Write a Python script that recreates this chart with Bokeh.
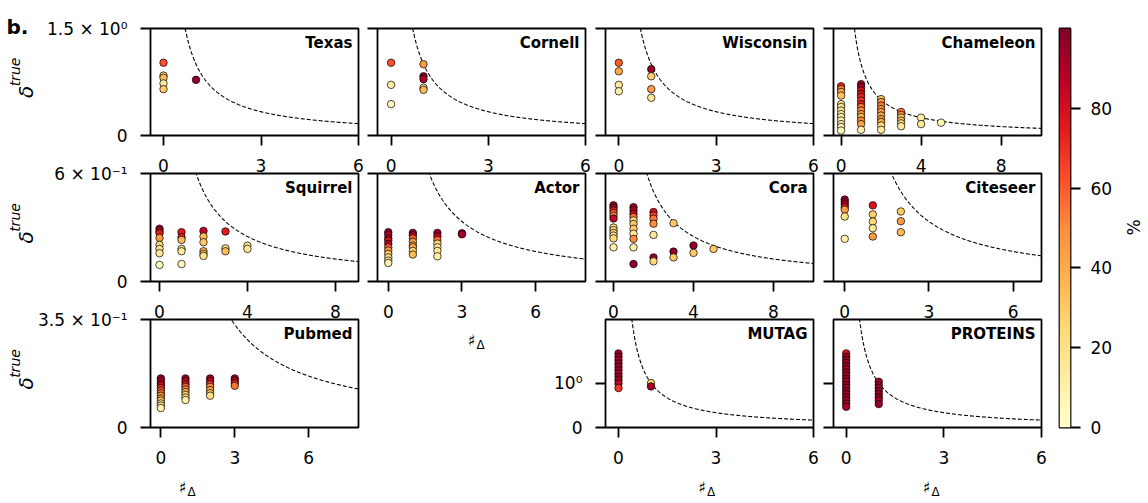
import numpy as np
from bokeh.plotting import figure
from bokeh.layouts import column
from bokeh.models import Range1d, FixedTicker, Label, LinearColorMapper, ColumnDataSource
from bokeh.embed import file_html
from bokeh.resources import INLINE

# ---------------- data ----------------
TEXAS_X = [0, 0, 0, 0, 0, 1]
TEXAS_Y = [1.02, 0.84, 0.81, 0.73, 0.65, 0.78]
TEXAS_P = [62, 28, 35, 14, 30, 95]

CORNELL_X = [0, 0, 0, 1, 1, 1, 1, 1]
CORNELL_Y = [1.02, 0.71, 0.44, 1.00, 0.83, 0.79, 0.67, 0.64]
CORNELL_P = [62, 12, 6, 45, 95, 90, 22, 35]

WISCONSIN_X = [0, 0, 0, 0, 1, 1, 1, 1]
WISCONSIN_Y = [1.02, 0.90, 0.71, 0.62, 0.93, 0.83, 0.65, 0.53]
WISCONSIN_P = [60, 40, 14, 10, 95, 28, 45, 15]

CHAMELEON_X = [0] * 13 + [1] * 14 + [2] * 10 + [3] * 6 + [4] * 2 + [5]
CHAMELEON_Y = [0.69, 0.65, 0.61, 0.56, 0.44, 0.40, 0.35, 0.30, 0.26, 0.21, 0.16, 0.12, 0.07,
               0.72, 0.68, 0.63, 0.58, 0.54, 0.49, 0.44, 0.40, 0.35, 0.30, 0.26, 0.21, 0.16, 0.08,
               0.51, 0.47, 0.42, 0.37, 0.33, 0.28, 0.23, 0.19, 0.14, 0.08,
               0.33, 0.29, 0.25, 0.21, 0.17, 0.13,
               0.25, 0.16,
               0.18]
CHAMELEON_P = [72, 50, 42, 32, 20, 15, 18, 10, 12, 8, 14, 6, 4,
               95, 92, 80, 75, 72, 68, 72, 55, 50, 45, 35, 50, 45, 10,
               30, 45, 55, 45, 45, 40, 45, 40, 25, 15,
               55, 50, 25, 35, 20, 15,
               12, 15,
               8]

SQUIRREL_X = [0] * 8 + [1] * 6 + [2] * 6 + [3] * 3 + [4] * 2
SQUIRREL_Y = [0.293, 0.279, 0.268, 0.242, 0.203, 0.181, 0.157, 0.092,
              0.274, 0.246, 0.231, 0.181, 0.168, 0.097,
              0.281, 0.250, 0.218, 0.168, 0.153, 0.142,
              0.278, 0.184, 0.168,
              0.199, 0.181]
SQUIRREL_P = [95, 82, 75, 45, 25, 20, 15, 5,
              75, 72, 35, 20, 15, 5,
              85, 35, 30, 40, 30, 20,
              75, 20, 35,
              20, 15]

ACTOR_X = [0] * 11 + [1] * 8 + [2] * 7 + [3] * 2
ACTOR_Y = [0.274, 0.259, 0.240, 0.227, 0.209, 0.190, 0.172, 0.153, 0.134, 0.116, 0.103,
           0.270, 0.257, 0.240, 0.220, 0.200, 0.190, 0.170, 0.150,
           0.270, 0.250, 0.230, 0.210, 0.190, 0.170, 0.140,
           0.268, 0.262]
ACTOR_P = [95, 90, 92, 78, 88, 60, 45, 30, 20, 15, 10,
           95, 90, 60, 45, 35, 40, 25, 35,
           95, 85, 55, 25, 15, 15, 10,
           95, 92]

CORA_X = [0] * 12 + [1] * 11 + [2] * 7 + [3] * 3 + [4] * 2 + [5]
CORA_Y = [0.423, 0.410, 0.395, 0.380, 0.365, 0.350, 0.300, 0.285, 0.270, 0.255, 0.240, 0.190,
          0.413, 0.395, 0.376, 0.358, 0.339, 0.320, 0.293, 0.265, 0.237, 0.190, 0.097,
          0.386, 0.367, 0.349, 0.321, 0.259, 0.134, 0.112,
          0.324, 0.166, 0.134,
          0.200, 0.159,
          0.181]
CORA_P = [95, 90, 75, 60, 50, 85, 25, 20, 30, 15, 25, 10,
          95, 90, 85, 55, 20, 30, 30, 15, 50, 10, 95,
          80, 65, 55, 50, 15, 95, 25,
          30, 95, 30,
          95, 30,
          30]

CITESEER_X = [0] * 7 + [1] * 5 + [2] * 3
CITESEER_Y = [0.455, 0.441, 0.428, 0.413, 0.399, 0.361, 0.237,
              0.423, 0.373, 0.333, 0.296, 0.250,
              0.389, 0.335, 0.274]
CITESEER_P = [95, 92, 88, 75, 45, 20, 10,
              78, 28, 25, 15, 45,
              30, 45, 35]

PUBMED_X = [0] * 13 + [1] * 9 + [2] * 7 + [3] * 4
PUBMED_Y = [0.159, 0.152, 0.143, 0.136, 0.128, 0.119, 0.111, 0.103, 0.094, 0.087, 0.078, 0.071, 0.063,
            0.159, 0.149, 0.140, 0.132, 0.123, 0.115, 0.106, 0.097, 0.089,
            0.159, 0.150, 0.140, 0.132, 0.121, 0.111, 0.103,
            0.159, 0.152, 0.143, 0.135]
PUBMED_P = [95, 90, 88, 80, 70, 60, 55, 50, 40, 30, 20, 15, 8,
            95, 85, 75, 60, 50, 40, 30, 20, 12,
            95, 85, 65, 50, 40, 30, 20,
            95, 90, 75, 55]

MUTAG_X = [0] * 11 + [1] * 2
MUTAG_Y = [1.667, 1.592, 1.517, 1.442, 1.366, 1.291, 1.216, 1.141, 1.066, 0.990, 0.887,
           1.000, 0.924]
MUTAG_P = [92, 95, 90, 95, 92, 95, 90, 95, 92, 88, 68,
           25, 92]

PROTEINS_X = [0] * 18 + [1] * 8
PROTEINS_Y = [1.667, 1.590, 1.520, 1.450, 1.380, 1.310, 1.240, 1.170, 1.100, 1.030, 0.960, 0.890,
              0.820, 0.750, 0.680, 0.610, 0.540, 0.466,
              1.030, 0.960, 0.890, 0.820, 0.750, 0.680, 0.610, 0.527]
PROTEINS_P = [78, 92, 95, 90, 95, 92, 95, 90, 95, 92, 95, 90,
              95, 92, 95, 90, 95, 92,
              92, 95, 90, 95, 92, 95, 90, 95]

BOUND_C = 1.0  # dashed bound: delta = C / #Delta

ROW_Y_MAX = [1.5, 0.6, 0.35]
ROW_Y_LABELS = ["1.5 × 10⁰", "6 × 10⁻¹", "3.5 × 10⁻¹"]
GRAPH_Y_MAX = 2.43
GRAPH_Y_TICKS = [0, 1.0]
GRAPH_Y_LABELS = ["0", "10⁰"]
CBAR_TICKS = [0, 20, 40, 60, 80]
CBAR_LABEL = "%"
X_LABEL_MAIN, X_LABEL_SUB = "♯", "Δ"
Y_LABEL_MAIN, Y_LABEL_SUB = "δ", "true"

YLORRD = ["#ffffcc", "#ffeda0", "#fed976", "#feb24c", "#fd8d3c",
          "#fc4e2a", "#e31a1c", "#bd0026", "#800026"]

# ---------------- layout constants ----------------
W, H = 1148, 503
COL_LEFT = [150, 377, 605, 833]
FW = 208
ROW_TOP = [28, 173, 319]
ROW_H = [107, 108, 108]
FONT = "DejaVu Sans"
TICK_FONT = "17px"
LW = 1.8


def interp_palette(colors, n):
    rgb = np.array([[int(c[i:i + 2], 16) for i in (1, 3, 5)] for c in colors], dtype=float)
    pos = np.linspace(0, 1, len(colors))
    t = np.linspace(0, 1, n)
    out = []
    for v in t:
        r, g, b = (np.interp(v, pos, rgb[:, k]) for k in range(3))
        out.append("#%02x%02x%02x" % (int(round(r)), int(round(g)), int(round(b))))
    return out


PAL = interp_palette(YLORRD, 256)
mapper = LinearColorMapper(palette=PAL, low=0, high=100)


def base_fig(left, top, fw, fh, xr, yr, **kw):
    p = figure(width=W, height=H, x_range=Range1d(*xr), y_range=Range1d(*yr),
               min_border_left=left, min_border_right=W - left - fw,
               min_border_top=top, min_border_bottom=H - top - fh,
               output_backend="svg", toolbar_location=None, tools="", title=None, **kw)
    p.frame_align = False
    p.background_fill_color = None
    p.border_fill_color = None
    p.outline_line_color = "black"
    p.outline_line_width = LW
    p.xgrid.visible = False
    p.ygrid.visible = False
    return p


def style_axis(ax, ticks, labels, standoff):
    ax.ticker = FixedTicker(ticks=ticks, minor_ticks=[])
    ax.axis_line_color = None
    ax.major_tick_out = 10
    ax.major_tick_in = 0
    ax.major_tick_line_width = LW
    ax.major_tick_line_color = "black"
    ax.minor_tick_out = 0
    ax.minor_tick_in = 0
    ax.major_label_standoff = standoff
    ax.major_label_text_font = FONT
    ax.major_label_text_font_size = TICK_FONT
    ax.major_label_text_color = "black"
    if labels is not None:
        ov = {}
        for t, l in zip(ticks, labels):
            ov[float(t)] = l
            ov[str(t)] = l
        ax.major_label_overrides = ov


def panel(name, xs, ys, ps, col, row, xr, xticks, yr, yticks, ylabels):
    left, top, fh = COL_LEFT[col], ROW_TOP[row], ROW_H[row]
    p = base_fig(left, top, FW, fh, xr, yr)
    style_axis(p.xaxis[0], xticks, [str(t) for t in xticks], 13)
    style_axis(p.yaxis[0], yticks, ylabels if ylabels is not None else [""] * len(yticks), 13)
    cx = np.linspace(0.05, xr[1], 400)
    p.line(cx, BOUND_C / cx, line_color="black", line_width=1.1, line_dash="4 2")
    src = ColumnDataSource(dict(x=xs, y=ys, p=ps))
    p.scatter("x", "y", source=src, size=7.5, fill_color={"field": "p", "transform": mapper},
              line_color="black", line_width=0.7)
    return p


panels = [
    panel("Texas", TEXAS_X, TEXAS_Y, TEXAS_P, 0, 0, (-0.4, 6.0), [0, 3, 6],
          (0, ROW_Y_MAX[0]), [0, ROW_Y_MAX[0]], ["0", ROW_Y_LABELS[0]]),
    panel("Cornell", CORNELL_X, CORNELL_Y, CORNELL_P, 1, 0, (-0.42, 6.0), [0, 3, 6],
          (0, ROW_Y_MAX[0]), [0, ROW_Y_MAX[0]], None),
    panel("Wisconsin", WISCONSIN_X, WISCONSIN_Y, WISCONSIN_P, 2, 0, (-0.41, 6.0), [0, 3, 6],
          (0, ROW_Y_MAX[0]), [0, ROW_Y_MAX[0]], None),
    panel("Chameleon", CHAMELEON_X, CHAMELEON_Y, CHAMELEON_P, 3, 0, (-0.38, 10.02), [0, 4, 8],
          (0, ROW_Y_MAX[0]), [0, ROW_Y_MAX[0]], None),
    panel("Squirrel", SQUIRREL_X, SQUIRREL_Y, SQUIRREL_P, 0, 1, (-0.41, 9.05), [0, 4, 8],
          (0, ROW_Y_MAX[1]), [0, ROW_Y_MAX[1]], ["0", ROW_Y_LABELS[1]]),
    panel("Actor", ACTOR_X, ACTOR_Y, ACTOR_P, 1, 1, (-0.44, 8.03), [0, 3, 6],
          (0, ROW_Y_MAX[1]), [0, ROW_Y_MAX[1]], None),
    panel("Cora", CORA_X, CORA_Y, CORA_P, 2, 1, (-0.4, 10.0), [0, 4, 8],
          (0, ROW_Y_MAX[1]), [0, ROW_Y_MAX[1]], None),
    panel("Citeseer", CITESEER_X, CITESEER_Y, CITESEER_P, 3, 1, (-0.4, 7.01), [0, 3, 6],
          (0, ROW_Y_MAX[1]), [0, ROW_Y_MAX[1]], None),
    panel("Pubmed", PUBMED_X, PUBMED_Y, PUBMED_P, 0, 2, (-0.42, 8.02), [0, 3, 6],
          (0, ROW_Y_MAX[2]), [0, ROW_Y_MAX[2]], ["0", ROW_Y_LABELS[2]]),
    panel("MUTAG", MUTAG_X, MUTAG_Y, MUTAG_P, 2, 2, (-0.4, 6.0), [0, 3, 6],
          (0, GRAPH_Y_MAX), GRAPH_Y_TICKS, GRAPH_Y_LABELS),
    panel("PROTEINS", PROTEINS_X, PROTEINS_Y, PROTEINS_P, 3, 2, (-0.39, 6.0), [0, 3, 6],
          (0, GRAPH_Y_MAX), GRAPH_Y_TICKS, None),
]
PANEL_NAMES = ["Texas", "Cornell", "Wisconsin", "Chameleon", "Squirrel", "Actor", "Cora",
               "Citeseer", "Pubmed", "MUTAG", "PROTEINS"]
PANEL_POS = [(0, 0), (1, 0), (2, 0), (3, 0), (0, 1), (1, 1), (2, 1), (3, 1), (0, 2), (2, 2), (3, 2)]

# ---------------- colorbar ----------------
CB_LEFT, CB_TOP, CB_W, CB_H = 1059, 28, 11, 399
cb = base_fig(CB_LEFT, CB_TOP, CB_W, CB_H, (0, 1), (0, 100), y_axis_location="right")
cb.xaxis.visible = False
style_axis(cb.yaxis[0], CBAR_TICKS, [str(t) for t in CBAR_TICKS], 10)
grad = np.linspace(0, 100, 256).reshape(-1, 1)
cb.image(image=[grad], x=0, y=0, dw=1, dh=100, color_mapper=mapper)

# ---------------- free text overlay (pixel coordinates, y measured from top) ----------------
ov = figure(width=W, height=H, x_range=Range1d(0, W), y_range=Range1d(0, H),
            min_border=0, output_backend="svg", toolbar_location=None, tools="", title=None,
            x_axis_location=None, y_axis_location=None)
ov.frame_align = False
ov.background_fill_color = None
ov.border_fill_color = None
ov.outline_line_color = None
ov.xgrid.visible = False
ov.ygrid.visible = False


def lab(text, x, y, size, style="normal", angle=0.0, align="center", baseline="middle"):
    ov.add_layout(Label(x=x, y=H - y, text=text, text_font=FONT, text_font_size=f"{size}px",
                        text_font_style=style, angle=angle, text_align=align,
                        text_baseline=baseline, text_color="black"))


lab("b.", 6, 26, 20, "bold", align="left", baseline="alphabetic")
for name, (c, r) in zip(PANEL_NAMES, PANEL_POS):
    lab(name, COL_LEFT[c] + FW - 6, ROW_TOP[r] + 14, 15, "bold", align="right", baseline="alphabetic")
for r in range(3):
    cy = ROW_TOP[r] + ROW_H[r] / 2
    lab(Y_LABEL_MAIN, 25, cy + 10, 20, "italic", angle=np.pi / 2)
    lab(Y_LABEL_SUB, 14, cy - 10, 14, "italic", angle=np.pi / 2)
for (sx, sy) in [(182, 487), (471, 340), (701.5, 487), (926, 487)]:
    lab(X_LABEL_MAIN, sx, sy, 16)
    lab(X_LABEL_SUB, sx + 9, sy + 4.5, 12)
lab(CBAR_LABEL, 1133, 227, 17, angle=np.pi / 2)

figs = panels + [cb, ov]
for f in figs[1:]:
    f.margin = (-H, 0, 0, 0)
layout = column(*figs, spacing=0)

open("out.html", "w").write(file_html(layout, INLINE))
